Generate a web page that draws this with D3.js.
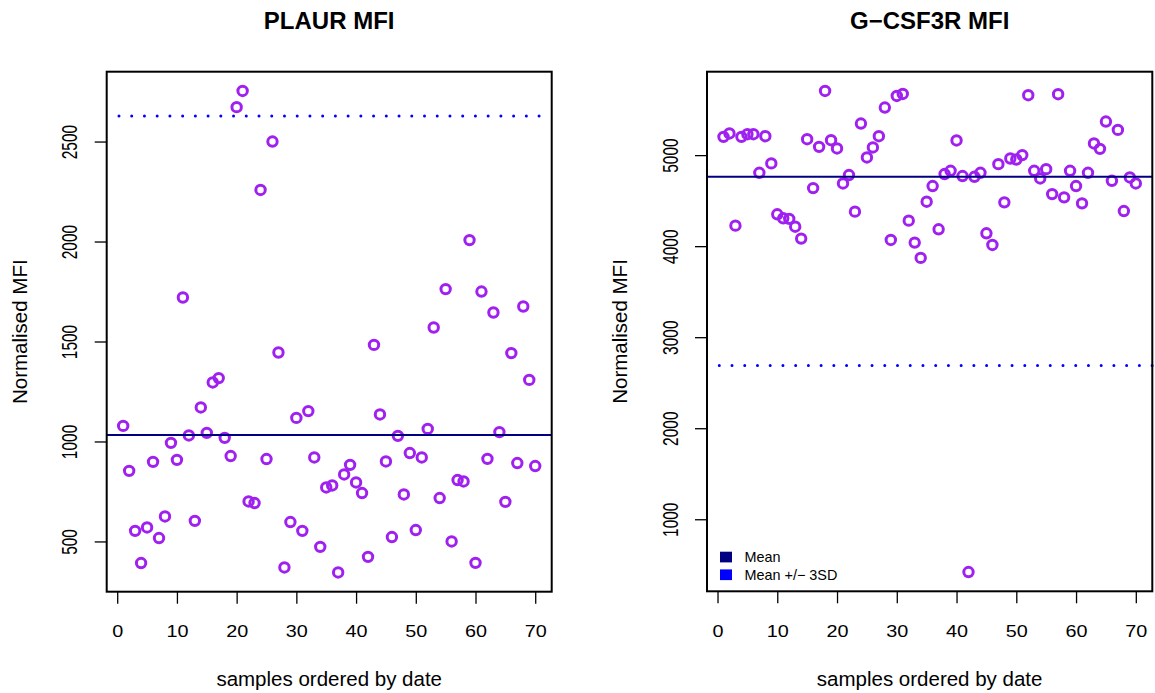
<!DOCTYPE html>
<html>
<head>
<meta charset="utf-8">
<script src="https://cdn.jsdelivr.net/npm/d3@7"></script>
<style>
  body { margin: 0; background: #fff; }
  svg { display: block; }
  text { font-family: "Liberation Sans", Arial, Helvetica, sans-serif; fill: #000; }
</style>
</head>
<body>
<svg></svg>
<script>
// samples 1..70, ordered by date
const sampleIndex = d3.range(1, 71);

const plaurMFI = [
  1078, 853, 553, 392, 570, 898, 517, 625, 993, 908,
  1720, 1030, 603, 1170, 1043, 1295, 1317, 1018, 927, 2672,
  2753, 700, 692, 2258, 912, 2500, 1445, 370, 597, 1118,
  553, 1152, 920, 473, 770, 780, 345, 835, 883, 795,
  742, 423, 1483, 1135, 900, 522, 1028, 735, 942, 557,
  920, 1063, 1570, 717, 1762, 500, 807, 800, 2007, 393,
  1750, 913, 1645, 1047, 698, 1442, 892, 1675, 1308, 877
];

const gcsf3rMFI = [
  5201, 5238, 4225, 5201, 5230, 5230, 4806, 5208, 4909, 4350,
  4306, 4300, 4214, 4083, 5175, 4638, 5091, 5705, 5164, 5073,
  4689, 4781, 4379, 5347, 4974, 5084, 5208, 5523, 4068, 5650,
  5672, 4280, 4039, 3871, 4488, 4660, 4185, 4792, 4828, 5161,
  4770, 420, 4762, 4806, 4141, 4013, 4901, 4481, 4963, 4952,
  5000, 5658, 4828, 4744, 4846, 4572, 5669, 4536, 4828, 4660,
  4470, 4806, 5128, 5069, 5369, 4718, 5277, 4386, 4755, 4689
];

const xTicks = [0, 10, 20, 30, 40, 50, 60, 70];
const plaurTicks = [500, 1000, 1500, 2000, 2500];
const gcsfTicks = [1000, 2000, 3000, 4000, 5000];

// reference lines (mean and mean +/- 3SD)
const plaurLines = { mean: 1032, sd3: [2628] };
const gcsfLines = { mean: 4762, sd3: [2690] };

const legendLabels = ["Mean", "Mean +/\u2212 3SD"];
const legendColours = ["#000080", "#0000ff"];

const width = 1155, height = 693;
const svg = d3.select("svg")
  .attr("width", width)
  .attr("height", height);

/**
 * draws one R-style scatter panel
 */
function drawPanel(opts) {
  const { left, right, top, bottom } = opts.box;
  const cx = (left + right) / 2;

  // R pads axis ranges by 4%
  const xPad = (70 - 1) * 0.04;
  const x = d3.scaleLinear()
    .domain([1 - xPad, 70 + xPad])
    .range([left, right]);

  const yExt = d3.extent(opts.values);
  const yPad = (yExt[1] - yExt[0]) * 0.04;
  const y = d3.scaleLinear()
    .domain([yExt[0] - yPad, yExt[1] + yPad])
    .range([bottom, top]);

  const g = svg.append("g");

  // points
  g.selectAll("circle")
    .data(opts.values)
    .enter().append("circle")
    .attr("cx", (d, i) => x(sampleIndex[i]))
    .attr("cy", d => y(d))
    .attr("r", 4.7)
    .attr("fill", "none")
    .attr("stroke", "#a020f0")
    .attr("stroke-width", 3);

  // mean line
  g.append("line")
    .attr("x1", left).attr("x2", right)
    .attr("y1", y(opts.lines.mean)).attr("y2", y(opts.lines.mean))
    .attr("stroke", "#000080")
    .attr("stroke-width", 2);

  // +/- 3SD dotted lines
  opts.lines.sd3.forEach(v => {
    g.append("line")
      .attr("x1", left).attr("x2", right)
      .attr("y1", y(v)).attr("y2", y(v))
      .attr("stroke", "#0000ff")
      .attr("stroke-width", 3)
      .attr("stroke-linecap", "round")
      .attr("stroke-dasharray", "0,12.73")
      .attr("stroke-dashoffset", 0.45);
  });

  // box
  g.append("rect")
    .attr("x", left).attr("y", top)
    .attr("width", right - left).attr("height", bottom - top)
    .attr("fill", "none")
    .attr("stroke", "#000")
    .attr("stroke-width", 2);

  // x axis
  const xAxis = g.append("g")
    .attr("transform", `translate(0,${bottom})`)
    .call(d3.axisBottom(x).tickValues(xTicks).tickFormat(d3.format("d"))
      .tickSize(12).tickSizeOuter(0));
  xAxis.select(".domain").remove();
  xAxis.selectAll("line").attr("stroke", "#000").attr("stroke-width", 1.3);
  xAxis.selectAll("text")
    .attr("y", 0).attr("dy", null)
    .attr("transform", "translate(0,45.5) scale(1.2,1)")
    .style("font-size", "16.5px")
    .attr("fill", "#000");

  // y axis
  const yAxis = g.append("g")
    .attr("transform", `translate(${left},0)`)
    .call(d3.axisLeft(y).tickValues(opts.yTicks).tickFormat(d3.format("d"))
      .tickSize(12).tickSizeOuter(0));
  yAxis.select(".domain").remove();
  yAxis.selectAll("line").attr("stroke", "#000").attr("stroke-width", 1.3);
  yAxis.selectAll("text")
    .attr("x", 0).attr("y", 0).attr("dy", null)
    .attr("text-anchor", "middle")
    .attr("transform", "translate(-29.5,0) scale(1.4,1) rotate(-90)")
    .style("font-size", "15.5px")
    .attr("fill", "#000");

  // title
  svg.append("text")
    .attr("x", cx).attr("y", 29.3)
    .attr("text-anchor", "middle")
    .style("font-size", "24px")
    .style("font-weight", "bold")
    .text(opts.title);

  // axis labels
  svg.append("text")
    .attr("x", cx).attr("y", 686)
    .attr("text-anchor", "middle")
    .style("font-size", "20.5px")
    .text("samples ordered by date");

  svg.append("text")
    .attr("transform", `translate(${left - 79.8},${(top + bottom) / 2}) rotate(-90)`)
    .attr("text-anchor", "middle")
    .style("font-size", "20.5px")
    .text("Normalised MFI");

  if (opts.legend) {
    const lg = svg.append("g");
    legendLabels.forEach((lab, i) => {
      lg.append("rect")
        .attr("x", left + 13).attr("y", 551.7 + i * 17.7)
        .attr("width", 12).attr("height", 10.7)
        .attr("fill", legendColours[i]);
      lg.append("text")
        .attr("x", left + 37.5).attr("y", 562.3 + i * 17.7)
        .style("font-size", "14.4px")
        .text(lab);
    });
  }
}

drawPanel({
  title: "PLAUR MFI",
  values: plaurMFI,
  yTicks: plaurTicks,
  lines: plaurLines,
  box: { left: 106.7, right: 551.7, top: 71.7, bottom: 591.7 },
  legend: false
});

drawPanel({
  title: "G\u2212CSF3R MFI",
  values: gcsf3rMFI,
  yTicks: gcsfTicks,
  lines: gcsfLines,
  box: { left: 707, right: 1152.3, top: 71.7, bottom: 591.3 },
  legend: true
});
</script>
</body>
</html>
